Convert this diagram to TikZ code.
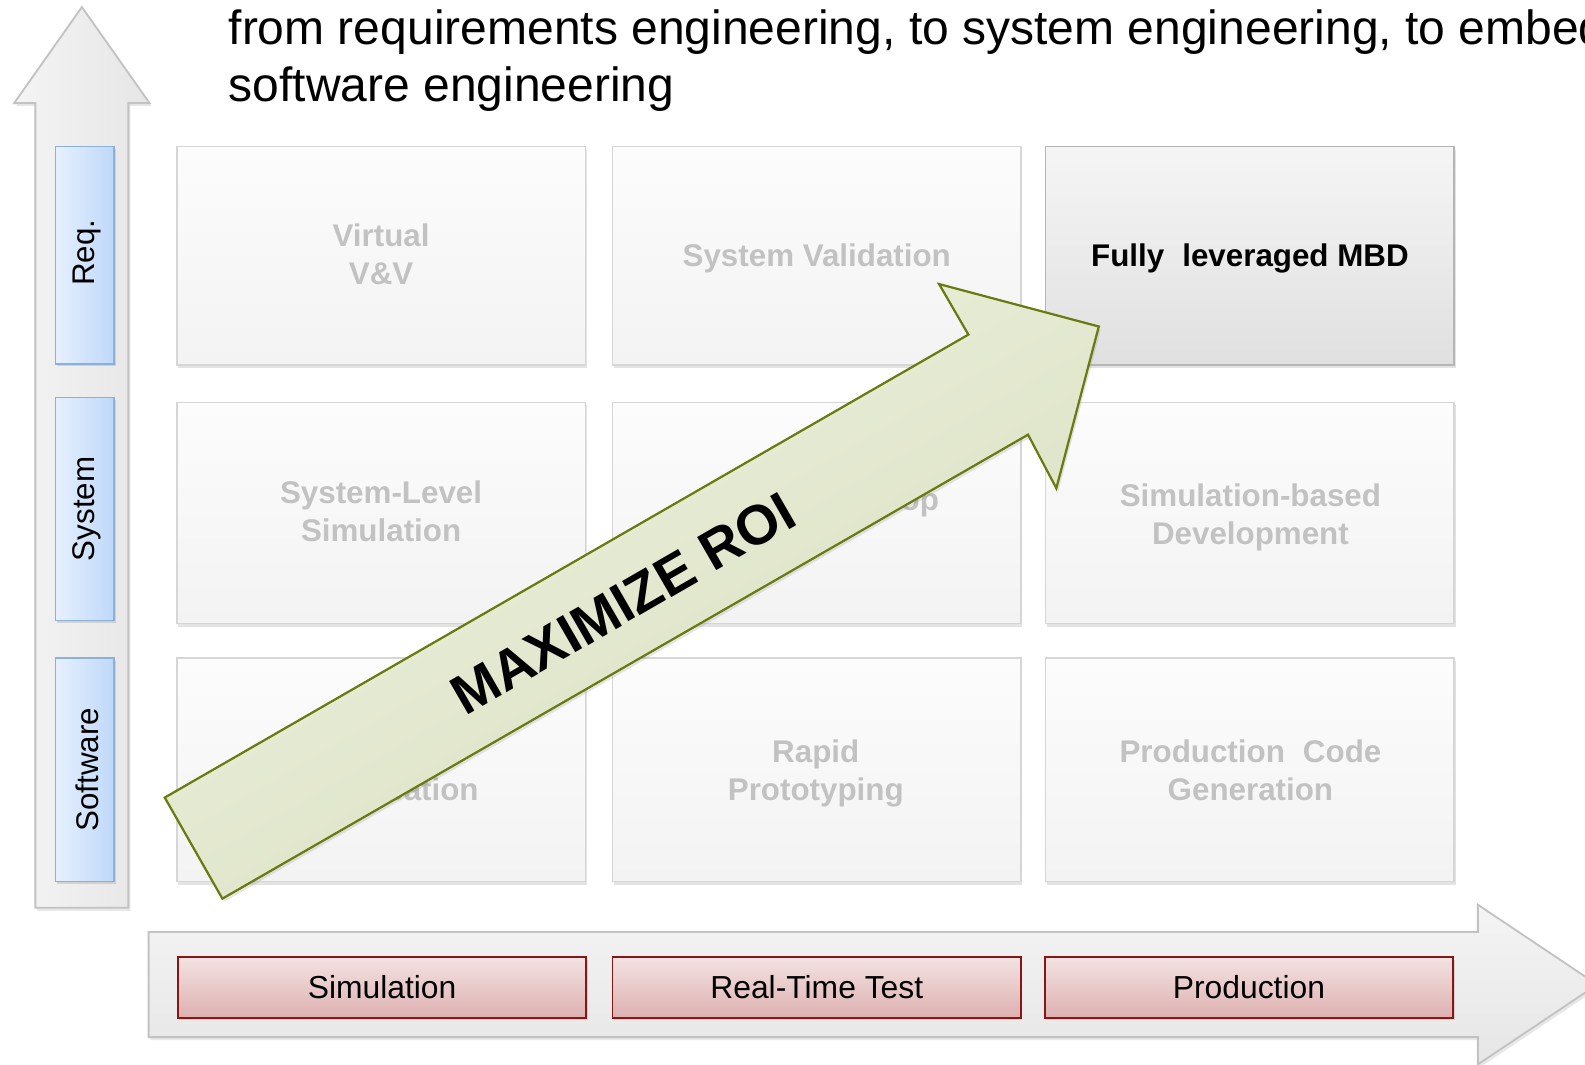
\documentclass[tikz,border=0pt]{standalone}
\usepackage{fontspec}
\setmainfont{Liberation Sans}
\usetikzlibrary{shadows}

\definecolor{cellTop}{HTML}{FCFCFC}
\definecolor{cellBot}{HTML}{F3F3F3}
\definecolor{cellLine}{HTML}{D6D6D6}
\definecolor{cellText}{HTML}{C2C2C2}
\definecolor{hotTop}{HTML}{F5F5F5}
\definecolor{hotBot}{HTML}{E0E0E0}
\definecolor{hotLine}{HTML}{B5B5B5}
\definecolor{blueL}{HTML}{E6F0FF}
\definecolor{blueR}{HTML}{BFD8F8}
\definecolor{blueLine}{HTML}{8DB0DA}
\definecolor{redTop}{HTML}{F4E2E2}
\definecolor{redBot}{HTML}{DDB0B0}
\definecolor{redLine}{HTML}{8A1515}
\definecolor{greenA}{HTML}{EEF2E0}
\definecolor{greenB}{HTML}{D8DFBF}
\definecolor{greenLine}{HTML}{687A10}
\definecolor{bigTop}{HTML}{F4F4F4}
\definecolor{bigBot}{HTML}{E6E6E6}
\definecolor{bigLine}{HTML}{C2C2C2}

\begin{document}
\begin{tikzpicture}[x=1pt,y=-1pt,
  bigarrow/.style={draw=bigLine, line width=1.8pt, line join=miter,
    left color=bigTop, right color=bigBot,
    drop shadow={shadow xshift=2pt, shadow yshift=-3pt, opacity=0.18}},
  cell/.style={draw=cellLine, line width=1.3pt, top color=cellTop, bottom color=cellBot,
    drop shadow={shadow xshift=1.5pt, shadow yshift=-3pt, opacity=0.22},
    minimum width=404pt, inner sep=0pt},
  hotcell/.style={cell, draw=hotLine, top color=hotTop, bottom color=hotBot},
  celltext/.style={inner sep=0pt, align=center, text=cellText,
    font=\fontsize{31}{37.5}\selectfont\bfseries},
  axisbox/.style={draw=blueLine, line width=1.5pt, left color=blueL, right color=blueR,
    drop shadow={shadow xshift=1.5pt, shadow yshift=-2.5pt, opacity=0.25},
    minimum width=58pt, inner sep=0pt},
  axistext/.style={inner sep=0pt, rotate=90, font=\fontsize{31}{37}\selectfont},
  phasebox/.style={draw=redLine, line width=1.8pt, top color=redTop, bottom color=redBot,
    drop shadow={shadow xshift=1.5pt, shadow yshift=-2.5pt, opacity=0.25},
    minimum width=404pt, minimum height=60pt, inner sep=0pt,
    font=\fontsize{31.5}{37}\selectfont},
  roiarrow/.style={draw=greenLine, line width=2.2pt, line join=miter,
    top color=greenA, bottom color=greenB, shading angle=30,
    drop shadow={shadow xshift=2pt, shadow yshift=-3pt, opacity=0.2}},
  title/.style={anchor=base west, inner sep=0pt, font=\fontsize{47.5}{55}\selectfont}
]
\useasboundingbox (0,0) rectangle (1568,1053);
\clip (0,0) rectangle (1568,1053);
\fill[white] (0,0) rectangle (1568,1053);

% heading
\node[title] (head1) at (226,44.5) {from requirements engineering, to system engineering, to embedded};
\node[title] (head2) at (226,100.5) {software engineering};

% vertical axis arrow
\draw[bigarrow] (35,898) -- (35,102) -- (14,102) -- (81,7) -- (148,102) -- (127,102) -- (127,898) -- cycle;

% horizontal axis arrow
\draw[bigarrow, top color=bigTop, bottom color=bigBot] (147,922) -- (1462,922) -- (1462,895) -- (1580,974) -- (1462,1053) -- (1462,1026) -- (147,1026) -- cycle;

% level labels
\node[axisbox, minimum height=215pt] (req) at (84,252.5) {};
\node[axisbox, minimum height=221pt] (sys) at (84,503.5) {};
\node[axisbox, minimum height=221pt] (sw)  at (84,761.5) {};
\node[axistext] (reqt) at (86,250) {Req.};
\node[axistext] (syst) at (86,503.5) {System};
\node[axistext] (swt)  at (86,761.5) {Software};

% grid of maturity cells
\node[cell, minimum height=216pt] (c11) at (377,253) {};
\node[cell, minimum height=216pt] (c12) at (808,253) {};
\node[hotcell, minimum height=216pt] (c13) at (1236.5,253) {};
\node[cell, minimum height=219pt] (c21) at (377,507.5) {};
\node[cell, minimum height=219pt] (c22) at (808,507.5) {};
\node[cell, minimum height=219pt] (c23) at (1236.5,507.5) {};
\node[cell, minimum height=221pt] (c31) at (377,761.5) {};
\node[cell, minimum height=221pt] (c32) at (808,761.5) {};
\node[cell, minimum height=221pt] (c33) at (1236.5,761.5) {};

\node[celltext] (c11t) at (377,252) {Virtual\\V\&V};
\node[celltext] (c12t) at (808,256) {System Validation};
\node[celltext, text=black] (c13t) at (1236.5,256) {Fully\hspace{0.3em} leveraged MBD};
\node[celltext] (c21t) at (377,506) {System-Level\\Simulation};
\node[celltext] (c22t) at (813,497) {HW-in-the-Loop};
\node[celltext] (c23t) at (1237,511.5) {Simulation-based\\Development};
\node[celltext] (c31t) at (377,765) {Executable\\Specification};
\node[celltext] (c32t) at (807,765) {Rapid\\Prototyping};
\node[celltext] (c33t) at (1237,762) {Production\hspace{0.3em} Code\\Generation};

% phases
\node[phasebox] (p1) at (378,977) {Simulation};
\node[phasebox] (p2) at (808,977) {Real-Time Test};
\node[phasebox] (p3) at (1235.5,977) {Production};

% ROI arrow
\draw[roiarrow] (163,789) -- (958,331) -- (929,281) -- (1087,323) -- (1045,483) -- (1017,430) -- (220,889) -- cycle;
\node[rotate=30, inner sep=0pt, font=\fontsize{55}{60}\selectfont\bfseries] (roi) at (616,597) {MAXIMIZE ROI};
\end{tikzpicture}
\end{document}
